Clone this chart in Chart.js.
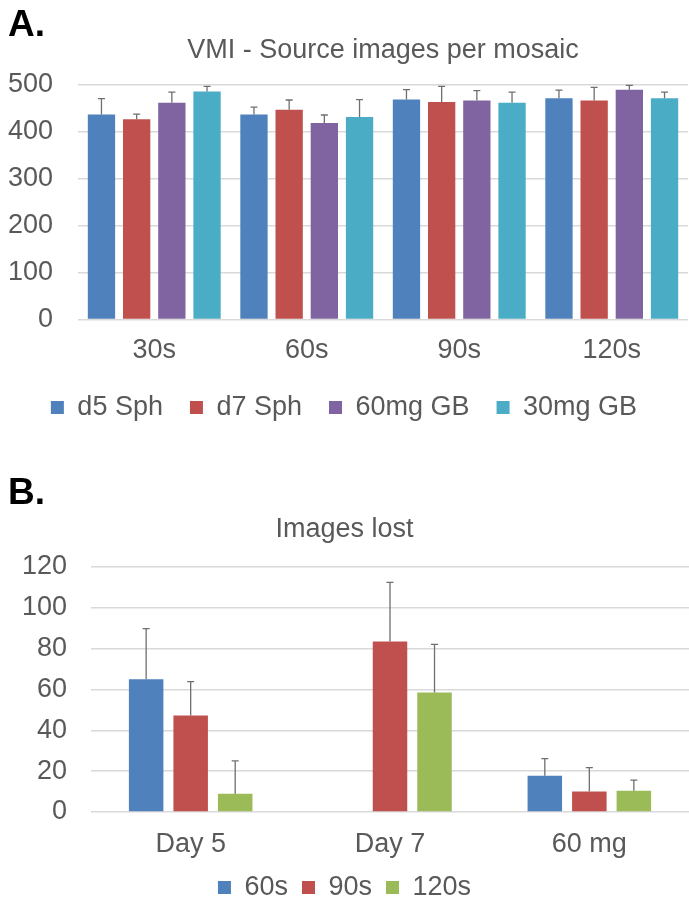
<!DOCTYPE html>
<html>
<head>
<meta charset="utf-8">
<script src="https://cdn.jsdelivr.net/npm/chart.js@4.4.0/dist/chart.umd.min.js"></script>
<style>
  html, body { margin: 0; padding: 0; background: #fff; overflow: hidden; }
  .panel { position: absolute; left: 0; }
  .tag { position: absolute; left: 8px; font: bold 37px "Liberation Sans", Arial, sans-serif; color: #000; line-height: 37px; }
</style>
</head>
<body>
<canvas id="chartA" class="panel" style="top:0" width="689" height="431"></canvas>
<canvas id="chartB" class="panel" style="top:450px" width="689" height="461"></canvas>
<div class="tag" style="top:5px">A.</div>
<div class="tag" style="top:473px">B.</div>
<script>
// Panel A - source images per mosaic
const scanTimes = ['30s', '60s', '90s', '120s'];
const d5Sph = [437, 437, 469, 472];
const d7Sph = [427, 447, 464, 467];
const gb60 = [462, 419, 467, 490];
const gb30 = [486, 432, 462, 472];
const d5SphErr = [34, 16, 21, 17];
const d7SphErr = [11, 21, 33, 28];
const gb60Err = [23, 17, 21, 9];
const gb30Err = [11, 37, 23, 13];
const ticksA = [0, 100, 200, 300, 400, 500];

// Panel B - images lost
const groupsB = ['Day 5', 'Day 7', '60 mg'];
const lost60 = [65, null, 17.8];
const lost90 = [47.3, 83.5, 10.1];
const lost120 = [9, 58.5, 10.4];
const lost60Err = [24.8, null, 8.3];
const lost90Err = [16.6, 29, 11.6];
const lost120Err = [16, 23.6, 5.2];
const ticksB = [0, 20, 40, 60, 80, 100, 120];

const FONT = '"Liberation Sans", Arial, sans-serif';
const TXT = '#595959';
const GRID = '#d9d9d9';
const SIZE = 27;

// one-sided error bars (upper whisker only), like the Excel original
const errorBars = {
  id: 'errorBars',
  afterDatasetsDraw(chart) {
    const ctx = chart.ctx;
    const yScale = chart.scales.y;
    ctx.save();
    ctx.strokeStyle = '#6f6f6f';
    ctx.lineWidth = 1.3;
    chart.data.datasets.forEach((ds, i) => {
      const meta = chart.getDatasetMeta(i);
      meta.data.forEach((bar, j) => {
        const v = ds.data[j];
        const e = ds.errors[j];
        if (v == null || e == null) return;
        const yTop = yScale.getPixelForValue(v + e);
        ctx.beginPath();
        ctx.moveTo(bar.x, bar.y);
        ctx.lineTo(bar.x, yTop);
        ctx.moveTo(bar.x - 3.5, yTop);
        ctx.lineTo(bar.x + 3.5, yTop);
        ctx.stroke();
      });
    });
    ctx.restore();
  }
};

function makeBars(label, data, errors, color) {
  return { label, data, errors, backgroundColor: color, borderWidth: 0 };
}

function baseOptions(cfg) {
  return {
    responsive: false,
    animation: false,
    layout: { padding: { left: 0, right: cfg.padRight, top: 0, bottom: 0 } },
    plugins: {
      title: {
        display: true,
        text: cfg.title,
        color: TXT,
        fullSize: cfg.titleFull,
        font: { family: FONT, size: SIZE, weight: 'normal' },
        padding: { top: cfg.titleTop, bottom: cfg.titleBottom }
      },
      legend: {
        position: 'bottom',
        labels: {
          color: TXT,
          font: { family: FONT, size: SIZE },
          boxWidth: 13,
          boxHeight: 13,
          padding: cfg.legendPad
        }
      },
      tooltip: { enabled: false }
    },
    scales: {
      x: {
        grid: { display: false, drawTicks: false },
        border: { display: false },
        afterFit: (axis) => { axis.height = cfg.xHeight; },
        ticks: { color: TXT, font: { family: FONT, size: SIZE }, padding: cfg.xPad, maxRotation: 0 }
      },
      y: {
        min: 0,
        max: cfg.ticks[cfg.ticks.length - 1],
        afterBuildTicks: (axis) => { axis.ticks = cfg.ticks.map(v => ({ value: v })); },
        afterFit: (axis) => { axis.width = cfg.axisWidth; },
        grid: { color: GRID, lineWidth: 1.5, drawTicks: false },
        border: { display: false },
        ticks: { color: TXT, font: { family: FONT, size: SIZE }, padding: cfg.yPad }
      }
    },
    datasets: {
      bar: { categoryPercentage: cfg.catPct, barPercentage: cfg.barPct }
    }
  };
}

new Chart(document.getElementById('chartA'), {
  type: 'bar',
  data: {
    labels: scanTimes,
    datasets: [
      makeBars('d5 Sph', d5Sph, d5SphErr, '#4f81bd'),
      makeBars('d7 Sph', d7Sph, d7SphErr, '#c0504d'),
      makeBars('60mg GB', gb60, gb60Err, '#8064a2'),
      makeBars('30mg GB', gb30, gb30Err, '#4bacc6')
    ]
  },
  options: baseOptions({
    title: 'VMI - Source images per mosaic', titleFull: false,
    titleTop: 34.8, titleBottom: 17.8,
    padRight: 1, axisWidth: 78, yPad: 25, xPad: 15, xHeight: 47.5,
    legendPad: 27, ticks: ticksA, catPct: 0.923, barPct: 0.776
  }),
  plugins: [errorBars]
});

new Chart(document.getElementById('chartB'), {
  type: 'bar',
  data: {
    labels: groupsB,
    datasets: [
      makeBars('60s', lost60, lost60Err, '#4f81bd'),
      makeBars('90s', lost90, lost90Err, '#c0504d'),
      makeBars('120s', lost120, lost120Err, '#9bbb59')
    ]
  },
  options: baseOptions({
    title: 'Images lost', titleFull: true,
    titleTop: 63.3, titleBottom: 21.3,
    padRight: 0, axisWidth: 91, yPad: 24, xPad: 16.5, xHeight: 48,
    legendPad: 14, ticks: ticksB, catPct: 0.67, barPct: 0.775
  }),
  plugins: [errorBars]
});
</script>
</body>
</html>
